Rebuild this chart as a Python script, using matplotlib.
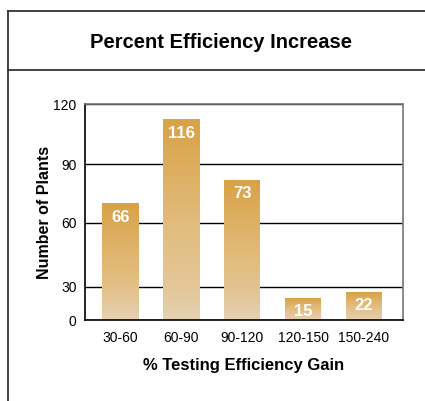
"""
    Percent Efficiency Increase - bar chart with gradient bars
"""

import numpy as np
import matplotlib
matplotlib.use('Agg')
import matplotlib.pyplot as plt
from matplotlib.colors import LinearSegmentedColormap
from matplotlib.lines import Line2D

plt.rcParams['font.family'] = ['Liberation Sans', 'DejaVu Sans']

categories = ['30-60', '60-90', '90-120', '120-150', '150-240']
counts = [66, 116, 73, 15, 22]            # printed on the bars
bar_heights = [70, 112.5, 82, 20, 25.5]   # bar tops as drawn against the y axis
y_ticks = [0, 30, 60, 90, 120]

# the y axis in the original is not evenly spaced, so map ticks piecewise
tick_px = [0, 33, 97, 156, 216]
knots_v = [-120] + y_ticks + [240]
knots_p = [-216] + tick_px + [432]


def fwd(v):
    return np.interp(v, knots_v, knots_p)


def inv(p):
    return np.interp(p, knots_p, knots_v)


gold = LinearSegmentedColormap.from_list('gold', ['#e4d0b2', '#e2bd80', '#d8a246'])

fig = plt.figure(figsize=(4.25, 4.01), dpi=100)
ax = fig.add_axes([85 / 425, 81 / 401, 318 / 425, 216 / 401])
ax.set_yscale('function', functions=(fwd, inv))
ax.set_ylim(0, 120)
ax.set_xlim(-0.58, 4.64)

x = np.arange(len(categories))
w = 0.6
for xi, h, n in zip(x, bar_heights, counts):
    ys = np.linspace(0, h, 80)
    c = np.linspace(0, 1, 79).reshape(-1, 1)
    ax.pcolormesh([xi - w / 2, xi + w / 2], ys, c, cmap=gold, shading='flat', zorder=2)
    ax.annotate(str(n), (xi, h), xytext=(0, -14), textcoords='offset pixels',
                ha='center', va='center', color='white', fontsize=12, fontweight='bold', zorder=3)

ax.set_yticks(y_ticks)
ax.set_xticks(x)
ax.set_xticklabels(categories)
ax.tick_params(length=0, labelsize=10)
ax.tick_params(axis='y', pad=6)
ax.tick_params(axis='x', pad=8)
ax.yaxis.grid(True, color='black', lw=1)
ax.set_axisbelow(True)
for s in ['top', 'right']:
    ax.spines[s].set_color('#777777')
for s in ['left', 'bottom']:
    ax.spines[s].set_color('black')
for s in ax.spines.values():
    s.set_linewidth(1.2)

ax.set_ylabel('Number of Plants', fontsize=11.5, fontweight='bold', labelpad=1)
ax.set_xlabel('% Testing Efficiency Gain', fontsize=12, fontweight='bold', labelpad=9)
fig.text(221 / 425, 1 - 42 / 401, 'Percent Efficiency Increase', ha='center', va='center',
         fontsize=14.5, fontweight='bold')

# outer frame lines
lc = '#333333'
fig.add_artist(Line2D([8 / 425, 8 / 425], [0, 1 - 11 / 401], color=lc, lw=1.3, transform=fig.transFigure))
fig.add_artist(Line2D([8 / 425, 1], [1 - 11 / 401, 1 - 11 / 401], color=lc, lw=1.3, transform=fig.transFigure))
fig.add_artist(Line2D([8 / 425, 1], [1 - 70 / 401, 1 - 70 / 401], color=lc, lw=1.3, transform=fig.transFigure))

fig.savefig('out.png', dpi=100)
